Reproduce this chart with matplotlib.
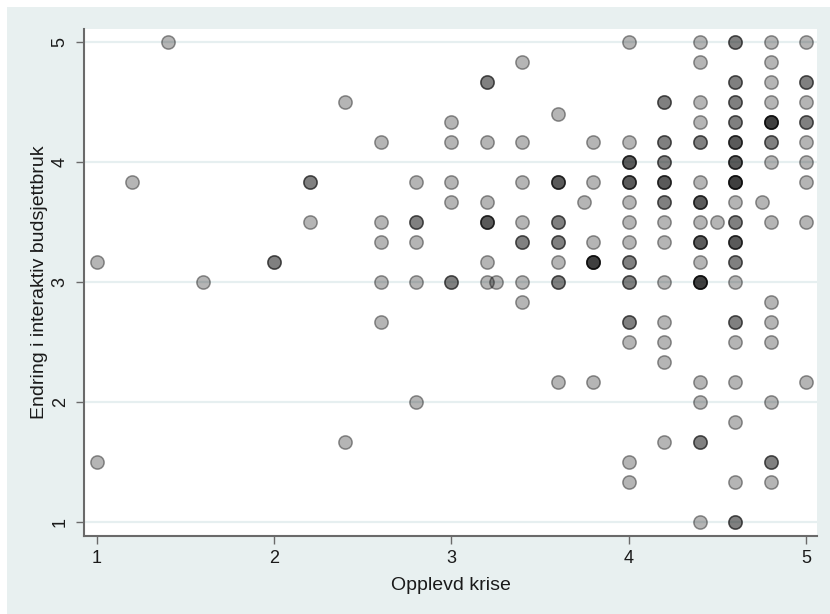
import numpy as np
from matplotlib import pyplot as plt
from matplotlib.patches import Rectangle

plt.rcParams['font.family'] = ['Liberation Sans', 'DejaVu Sans']

# Opplevd krise (x), Endring i interaktiv budsjettbruk (y), antall like svar (n)
krise = [1.0, 1.0,
         1.2,
         1.4,
         1.6,
         2.0,
         2.2, 2.2,
         2.4, 2.4,
         2.6, 2.6, 2.6, 2.6, 2.6,
         2.8, 2.8, 2.8, 2.8, 2.8,
         3.0, 3.0, 3.0, 3.0, 3.0,
         3.2, 3.2, 3.2, 3.2, 3.2, 3.2,
         3.25,
         3.4, 3.4, 3.4, 3.4, 3.4, 3.4, 3.4,
         3.6, 3.6, 3.6, 3.6, 3.6, 3.6, 3.6,
         3.75,
         3.8, 3.8, 3.8, 3.8, 3.8,
         4.0, 4.0, 4.0, 4.0, 4.0, 4.0, 4.0, 4.0, 4.0, 4.0, 4.0, 4.0, 4.0,
         4.2, 4.2, 4.2, 4.2, 4.2, 4.2, 4.2, 4.2, 4.2, 4.2, 4.2, 4.2,
         4.4, 4.4, 4.4, 4.4, 4.4, 4.4, 4.4, 4.4, 4.4, 4.4, 4.4, 4.4, 4.4, 4.4, 4.4,
         4.5,
         4.6, 4.6, 4.6, 4.6, 4.6, 4.6, 4.6, 4.6, 4.6, 4.6, 4.6, 4.6, 4.6, 4.6, 4.6, 4.6, 4.6, 4.6,
         4.75,
         4.8, 4.8, 4.8, 4.8, 4.8, 4.8, 4.8, 4.8, 4.8, 4.8, 4.8, 4.8, 4.8, 4.8,
         5.0, 5.0, 5.0, 5.0, 5.0, 5.0, 5.0, 5.0, 5.0]

budsjett = [3.167, 1.5,
            3.833,
            5.0,
            3.0,
            3.167,
            3.833, 3.5,
            4.5, 1.667,
            4.167, 3.5, 3.333, 3.0, 2.667,
            3.833, 3.5, 3.333, 3.0, 2.0,
            4.333, 4.167, 3.833, 3.667, 3.0,
            4.667, 4.167, 3.667, 3.5, 3.167, 3.0,
            3.0,
            4.833, 4.167, 3.833, 3.5, 3.333, 3.0, 2.833,
            4.4, 3.833, 3.5, 3.333, 3.167, 3.0, 2.167,
            3.667,
            4.167, 3.833, 3.333, 3.167, 2.167,
            5.0, 4.167, 4.0, 3.833, 3.667, 3.5, 3.333, 3.167, 3.0, 2.667, 2.5, 1.5, 1.333,
            4.5, 4.167, 4.0, 3.833, 3.667, 3.5, 3.333, 3.0, 2.667, 2.5, 2.333, 1.667,
            5.0, 4.833, 4.5, 4.333, 4.167, 3.833, 3.667, 3.5, 3.333, 3.167, 3.0, 2.167, 2.0, 1.667, 1.0,
            3.5,
            5.0, 4.667, 4.5, 4.333, 4.167, 4.0, 3.833, 3.667, 3.5, 3.333, 3.167, 3.0, 2.667, 2.5, 2.167, 1.833, 1.333, 1.0,
            3.667,
            5.0, 4.833, 4.667, 4.5, 4.333, 4.167, 4.0, 3.5, 2.833, 2.667, 2.5, 2.0, 1.5, 1.333,
            5.0, 4.667, 4.5, 4.333, 4.167, 4.0, 3.833, 3.5, 2.167]

antall = [1, 1,
          1,
          1,
          1,
          2,
          2, 1,
          1, 1,
          1, 1, 1, 1, 1,
          1, 2, 1, 1, 1,
          1, 1, 1, 1, 2,
          2, 1, 1, 3, 1, 1,
          1,
          1, 1, 1, 1, 2, 1, 1,
          1, 3, 2, 2, 1, 2, 1,
          1,
          1, 1, 1, 4, 1,
          1, 1, 3, 3, 1, 1, 1, 2, 2, 2, 1, 1, 1,
          2, 2, 2, 3, 2, 1, 1, 1, 1, 1, 1, 1,
          1, 1, 1, 1, 2, 1, 3, 1, 3, 1, 4, 1, 1, 2, 1,
          1,
          2, 2, 2, 2, 3, 3, 4, 1, 2, 3, 2, 1, 2, 1, 1, 1, 1, 2,
          1,
          1, 1, 1, 1, 4, 2, 1, 1, 1, 1, 1, 1, 2, 1,
          1, 2, 1, 2, 1, 1, 1, 1, 1]

x_ticks = [1, 2, 3, 4, 5]
y_ticks = [1, 2, 3, 4, 5]

# ett merke per observasjon, saa overlapp blir morkere
x = np.repeat(krise, antall)
y = np.repeat(budsjett, antall)

W, H, DPI = 830, 614, 100
fig = plt.figure(figsize=(W / DPI, H / DPI), dpi=DPI, facecolor='white')
fig.patches.append(Rectangle((7 / W, 0), 1, 1 - 7 / H, transform=fig.transFigure,
                             facecolor='#e8f0f0', edgecolor='none', zorder=-10))

ax = fig.add_axes([84 / W, 1 - 536 / H, (817 - 84) / W, (536 - 29) / H])
ax.set_facecolor('white')

ax.scatter(x, y, s=92, facecolor=(0, 0, 0, 0.29), edgecolor=(0, 0, 0, 0.4),
           linewidths=1.1, zorder=3)

ax.set_xlim(0.927, 5.062)
ax.set_ylim(0.883, 5.108)
ax.set_xticks(x_ticks)
ax.set_yticks(y_ticks)
ax.set_yticklabels([str(t) for t in y_ticks], rotation=90, va='center')

ax.yaxis.grid(True, color='#e6eff0', linewidth=1.6)
ax.set_axisbelow(True)

for side in ['top', 'right']:
    ax.spines[side].set_visible(False)
for side in ['left', 'bottom']:
    ax.spines[side].set_color('#6a6a6a')
    ax.spines[side].set_linewidth(1.5)

ax.tick_params(axis='both', direction='out', length=6, width=1, color='#6a6a6a',
               labelsize=13, labelcolor='#1a1a1a')
ax.tick_params(axis='y', pad=5)
ax.tick_params(axis='x', pad=4)

ax.set_xlabel('Opplevd krise', fontsize=14, color='#1a1a1a', labelpad=7)
ax.set_ylabel('Endring i interaktiv budsjettbruk', fontsize=14, color='#1a1a1a', labelpad=3)

plt.savefig('out.png', dpi=DPI)
